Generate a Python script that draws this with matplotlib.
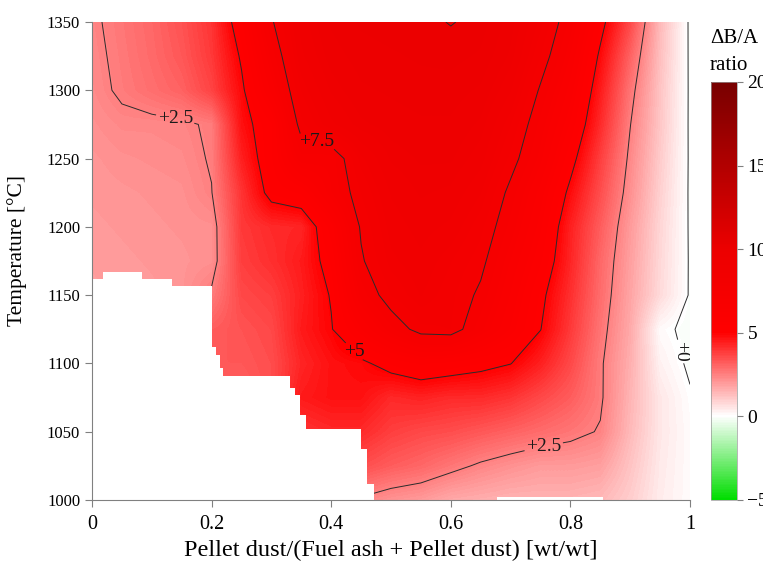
import matplotlib
matplotlib.use("Agg")
import matplotlib.pyplot as plt
import numpy as np
from matplotlib.colors import LinearSegmentedColormap, Normalize

plt.rcParams["font.family"] = ["Liberation Serif", "DejaVu Serif"]

# grid: pellet dust fraction (columns) x temperature (rows)
pellet_frac = np.round(np.arange(0, 1.0001, 0.05), 2)
temperature = np.arange(1000, 1351, 25)

# dB/A ratio, one row per temperature, low to high
delta_ratio = np.array([
    [1.9, 1.9, 1.9, 1.9, 2.6, 2.8, 2.9, 3.0, 2.9, 2.4, 2.14, 2.0, 1.7, 1.6, 1.5, 1.5, 1.5, 1.4, 1.0, 0.4, 0.1],        # 1000
    [1.9, 1.9, 1.9, 1.9, 2.7, 3.0, 3.3, 3.6, 3.6, 3.5, 3.2, 3.0, 2.7, 2.4, 2.18, 2.0, 2.0, 1.9, 1.2, 0.45, 0.1],       # 1025
    [1.9, 1.9, 1.9, 1.9, 2.8, 3.1, 3.6, 4.0, 4.2, 4.2, 3.8, 3.6, 3.5, 3.3, 3.1, 2.9, 2.7, 2.45, 1.4, 0.5, 0.1],        # 1050
    [1.9, 1.9, 1.9, 1.9, 3.0, 3.1, 3.5, 4.5, 4.7, 4.7, 4.23, 4.35, 4.2, 4.2, 4.0, 3.6, 3.2, 2.6, 1.5, 0.5, 0.05],      # 1075
    [1.9, 1.9, 1.9, 1.9, 3.3, 3.3, 3.5, 4.3, 4.7, 4.85, 5.3, 5.6, 5.45, 5.25, 5.02, 4.4, 3.6, 2.6, 1.6, 0.3, -0.08],   # 1100
    [1.9, 1.9, 1.9, 2.0, 3.2, 3.4, 3.6, 4.5, 4.95, 6.0, 7.0, 7.8, 7.9, 6.9, 6.0, 5.02, 3.9, 2.75, 1.7, 0.12, -0.12],   # 1125
    [1.9, 1.95, 2.0, 2.1, 2.6, 3.6, 3.8, 4.4, 5.05, 6.9, 7.9, 8.4, 8.0, 7.35, 6.3, 5.2, 4.1, 2.9, 1.8, 0.75, -0.05],   # 1150
    [1.95, 2.0, 2.05, 2.1, 2.2, 3.8, 4.1, 4.5, 5.3, 7.4, 8.3, 8.6, 8.2, 7.7, 6.6, 5.6, 4.3, 3.0, 1.9, 0.8, -0.05],     # 1175
    [2.0, 2.05, 2.1, 2.15, 2.2, 3.9, 4.2, 4.3, 5.7, 7.6, 8.5, 8.8, 8.6, 8.0, 7.0, 5.9, 4.4, 3.2, 2.0, 0.85, -0.06],    # 1200
    [2.05, 2.1, 2.15, 2.2, 2.48, 4.0, 5.3, 5.6, 6.8, 7.9, 8.7, 9.0, 8.9, 8.4, 7.3, 6.2, 4.8, 3.5, 2.2, 0.95, -0.07],   # 1225
    [2.1, 2.2, 2.25, 2.3, 2.55, 4.4, 5.5, 7.0, 6.9, 8.3, 9.0, 9.2, 9.2, 8.8, 7.8, 6.7, 5.3, 3.8, 2.35, 1.05, -0.07],   # 1250
    [2.2, 2.35, 2.35, 2.4, 2.58, 4.7, 5.5, 7.8, 8.6, 9.1, 9.3, 9.4, 9.4, 9.1, 8.2, 7.0, 5.8, 4.2, 2.52, 1.15, -0.08],  # 1275
    [2.3, 2.6, 2.85, 3.1, 3.7, 4.85, 6.4, 8.2, 9.0, 9.4, 9.5, 9.6, 9.6, 9.4, 8.7, 7.4, 6.2, 4.5, 2.75, 1.2, -0.08],    # 1300
    [2.35, 2.65, 2.95, 3.3, 3.9, 5.1, 6.9, 8.6, 9.3, 9.6, 9.7, 9.8, 9.85, 9.7, 9.1, 7.9, 6.6, 4.85, 3.1, 1.3, -0.09],  # 1325
    [2.4, 2.7, 3.0, 3.4, 4.0, 5.5, 7.4, 8.8, 9.5, 9.8, 9.9, 9.9, 10.02, 9.9, 9.3, 8.3, 7.0, 5.3, 3.6, 1.4, -0.1],      # 1350
])

# no-data region (below the step line there is no solution)
nodata_x = [0.0, 0.018, 0.084, 0.134, 0.201, 0.207, 0.214, 0.219, 0.331, 0.340,
            0.348, 0.358, 0.449, 0.460, 0.472, 0.677, 0.855, 1.0]
nodata_top = [1162, 1167, 1162, 1157, 1112, 1106, 1097, 1091, 1082, 1077,
              1062, 1052, 1037, 1012, 1000, 1002, 1000, 1000]

contour_levels = [0, 2.5, 5, 7.5, 10]
x_ticks = [0, 0.2, 0.4, 0.6, 0.8, 1.0]
x_tick_labels = ["0", "0.2", "0.4", "0.6", "0.8", "1"]
y_ticks = [1000, 1050, 1100, 1150, 1200, 1250, 1300, 1350]
cbar_ticks = [-5, 0, 5, 10, 15, 20]

cmap = LinearSegmentedColormap.from_list(
    "gwr",
    [(0.0, "#00dd00"), (0.2, "#ffffff"), (0.4, "#ff0000"),
     (0.6, "#ec0000"), (1.0, "#780000")],
)
norm = Normalize(vmin=-5, vmax=20)

fig = plt.figure(figsize=(7.63, 5.67), dpi=100)
ax = fig.add_axes([92 / 763, 67 / 567, 598 / 763, 478 / 567])

dx = (pellet_frac[1] - pellet_frac[0]) / 2
dy = (temperature[1] - temperature[0]) / 2
im = ax.imshow(
    delta_ratio,
    extent=[pellet_frac[0] - dx, pellet_frac[-1] + dx,
            temperature[0] - dy, temperature[-1] + dy],
    origin="lower", aspect="auto", cmap=cmap, norm=norm,
    interpolation="bilinear", interpolation_stage="data", zorder=1,
)

cs = ax.contour(pellet_frac, temperature, delta_ratio, levels=contour_levels,
                colors="#2b2b2b", linewidths=0.7, zorder=2)
labels = ax.clabel(
    cs, levels=[0, 2.5, 5, 7.5], fmt=lambda v: f"+{v:g}", fontsize=14,
    inline=True, inline_spacing=1,
    manual=[(0.14, 1281), (0.375, 1262), (0.432, 1106), (0.755, 1040), (0.978, 1108)],
)
for t in labels:
    t.set_transform_rotates_text(False)
    t.set_rotation(270 if t.get_text() == "+0" else 0)
    t.set_zorder(4)
    t.set_color("#1a1a1a")

ax.fill_between(nodata_x, 1000, nodata_top, step="post", color="white",
                lw=0, zorder=3)

ax.set_xlim(0, 1)
ax.set_ylim(1000, 1350)
ax.set_xticks(x_ticks, x_tick_labels)
ax.set_yticks(y_ticks)
ax.tick_params(axis="x", labelsize=14.5, direction="out", length=5, color="#808080", pad=6)
ax.tick_params(axis="y", labelsize=12, direction="out", length=5, color="#808080")
for side in ("top", "right"):
    ax.spines[side].set_visible(False)
for side in ("left", "bottom"):
    ax.spines[side].set_color("#808080")
    ax.spines[side].set_zorder(5)

ax.set_xlabel("Pellet dust/(Fuel ash + Pellet dust) [wt/wt]", fontsize=17.5, labelpad=4)
ax.set_ylabel("Temperature [°C]", fontsize=15.5)
ax.yaxis.set_label_coords(-0.108, 0.523)

cax = fig.add_axes([711 / 763, 67 / 567, 26 / 763, 418 / 567])
cb = fig.colorbar(im, cax=cax, ticks=cbar_ticks)
cb.outline.set_edgecolor("#999999")
cb.outline.set_linewidth(0.5)
cax.tick_params(labelsize=14, length=4, direction="out", color="#808080")
fig.text(710 / 763, 1 - 29 / 567, "ΔB/A\nratio", fontsize=15, va="top", ha="left",
         linespacing=1.6)

fig.savefig("out.png", dpi=100)
